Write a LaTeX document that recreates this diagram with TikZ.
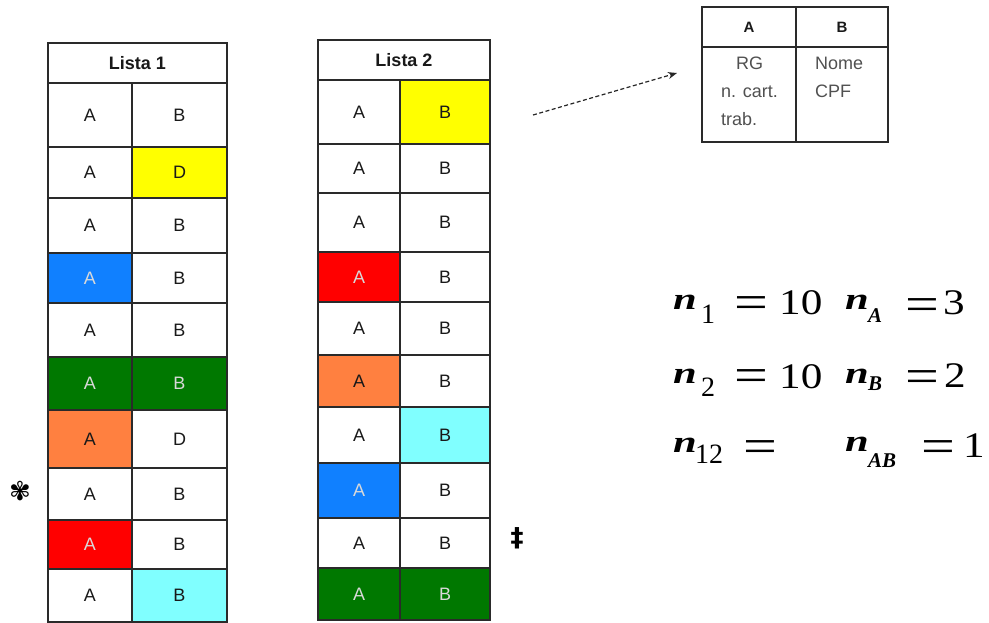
\documentclass[tikz,border=0pt]{standalone}
\usepackage{fontspec}
\setmainfont{Liberation Sans}
\newfontfamily\eqfont{Liberation Serif}
\newfontfamily\symfont{DejaVu Sans}
\usetikzlibrary{arrows.meta}

\definecolor{cyellow}{HTML}{FFFF00}
\definecolor{cblue}{HTML}{1080FF}
\definecolor{cgreen}{HTML}{007800}
\definecolor{corange}{HTML}{FF8040}
\definecolor{cred}{HTML}{FF0000}
\definecolor{ccyan}{HTML}{80FFFF}
\definecolor{gridline}{HTML}{2A2A2A}
\definecolor{bodytext}{HTML}{505050}

% one table cell: name, x-left, y-top, x-right, y-bottom, options, text
\newcommand\mkcell[7]{%
  \node[tcell,#6,minimum width={(#4-#2)*1pt},minimum height={(#5-#3)*1pt}]
    (#1) at ({(#2+#4)/2},{(#3+#5)/2}) {#7};}

% pieces of the counts: wide variable letter, widened equals sign and numbers
\newcommand\nv{\scalebox{1.25}[0.9]{n}}
\newcommand\eqsym{\scalebox{1.25}[1]{=}}
\newcommand\wide[1]{\scalebox{1.2}[1]{#1}}

\tikzset{
  tcell/.style={draw=gridline, line width=1.3pt, inner sep=0pt, outer sep=0pt,
    font=\fontsize{18}{20}\selectfont, text=black!90},
  head/.style={font=\fontsize{18}{20}\selectfont\bfseries},
  lighttext/.style={text=white!85!black},
  frame/.style={draw=gridline, line width=2pt},
  nvar/.style={anchor=base west, inner sep=0pt, font=\eqfont\bfseries\itshape\fontsize{34}{34}\selectfont},
  nsub/.style={anchor=base west, inner sep=0pt, font=\eqfont\fontsize{28}{28}\selectfont},
  lsub/.style={anchor=base west, inner sep=0pt, font=\eqfont\bfseries\itshape\fontsize{21}{21}\selectfont},
  eqnum/.style={anchor=base west, inner sep=0pt, font=\eqfont\fontsize{36}{36}\selectfont},
  eqsign/.style={anchor=base, inner sep=0pt, font=\eqfont\fontsize{48}{48}\selectfont},
  symmark/.style={inner sep=0pt},
  linkarrow/.style={-{Stealth[length=9pt,width=7pt]}, line width=1.2pt, dash pattern=on 4pt off 2.5pt, black!85}
}

\begin{document}
\begin{tikzpicture}[x=1pt,y=-1pt]
\useasboundingbox (0,0) rectangle (989,623);

% ---------------- Lista 1 ----------------
\mkcell{l1h}{48}{43}{227}{83}{head}{Lista 1}
\mkcell{l1a1}{48}{83}{132}{147}{}{A}
\mkcell{l1b1}{132}{83}{227}{147}{}{B}
\mkcell{l1a2}{48}{147}{132}{198}{}{A}
\mkcell{l1b2}{132}{147}{227}{198}{fill=cyellow}{D}
\mkcell{l1a3}{48}{198}{132}{253}{}{A}
\mkcell{l1b3}{132}{198}{227}{253}{}{B}
\mkcell{l1a4}{48}{253}{132}{303}{fill=cblue,lighttext}{A}
\mkcell{l1b4}{132}{253}{227}{303}{}{B}
\mkcell{l1a5}{48}{303}{132}{357}{}{A}
\mkcell{l1b5}{132}{303}{227}{357}{}{B}
\mkcell{l1a6}{48}{357}{132}{410}{fill=cgreen,lighttext}{A}
\mkcell{l1b6}{132}{357}{227}{410}{fill=cgreen,lighttext}{B}
\mkcell{l1a7}{48}{410}{132}{468}{fill=corange}{A}
\mkcell{l1b7}{132}{410}{227}{468}{}{D}
\mkcell{l1a8}{48}{468}{132}{520}{}{A}
\mkcell{l1b8}{132}{468}{227}{520}{}{B}
\mkcell{l1a9}{48}{520}{132}{569}{fill=cred,lighttext}{A}
\mkcell{l1b9}{132}{520}{227}{569}{}{B}
\mkcell{l1a10}{48}{569}{132}{622}{}{A}
\mkcell{l1b10}{132}{569}{227}{622}{fill=ccyan}{B}
\draw[frame] (l1h.north west) rectangle (l1b10.south east);

% ---------------- Lista 2 ----------------
\mkcell{l2h}{318}{40}{490}{80}{head}{Lista 2}
\mkcell{l2a1}{318}{80}{400}{144}{}{A}
\mkcell{l2b1}{400}{80}{490}{144}{fill=cyellow}{B}
\mkcell{l2a2}{318}{144}{400}{193}{}{A}
\mkcell{l2b2}{400}{144}{490}{193}{}{B}
\mkcell{l2a3}{318}{193}{400}{252}{}{A}
\mkcell{l2b3}{400}{193}{490}{252}{}{B}
\mkcell{l2a4}{318}{252}{400}{302}{fill=cred,lighttext}{A}
\mkcell{l2b4}{400}{252}{490}{302}{}{B}
\mkcell{l2a5}{318}{302}{400}{355}{}{A}
\mkcell{l2b5}{400}{302}{490}{355}{}{B}
\mkcell{l2a6}{318}{355}{400}{407}{fill=corange}{A}
\mkcell{l2b6}{400}{355}{490}{407}{}{B}
\mkcell{l2a7}{318}{407}{400}{463}{}{A}
\mkcell{l2b7}{400}{407}{490}{463}{fill=ccyan}{B}
\mkcell{l2a8}{318}{463}{400}{518}{fill=cblue,lighttext}{A}
\mkcell{l2b8}{400}{463}{490}{518}{}{B}
\mkcell{l2a9}{318}{518}{400}{568}{}{A}
\mkcell{l2b9}{400}{518}{490}{568}{}{B}
\mkcell{l2a10}{318}{568}{400}{620}{fill=cgreen,lighttext}{A}
\mkcell{l2b10}{400}{568}{490}{620}{fill=cgreen,lighttext}{B}
\draw[frame] (l2h.north west) rectangle (l2b10.south east);

% markers beside the tables
\node[symmark, font=\symfont\fontsize{26}{26}\selectfont] (star1) at (20,491) {✾};
\node[symmark, font=\symfont\bfseries\fontsize{26}{26}\selectfont] (star2) at (517,538) {‡};

% ---------------- key table ----------------
\mkcell{kha}{702}{7}{796}{47}{font=\fontsize{15}{17}\selectfont\bfseries}{A}
\mkcell{khb}{796}{7}{888}{47}{font=\fontsize{15}{17}\selectfont\bfseries}{B}
\mkcell{kba}{702}{47}{796}{142}{}{}
\mkcell{kbb}{796}{47}{888}{142}{}{}
\draw[frame] (kha.north west) rectangle (kbb.south east);
\node[anchor=north west, inner sep=0pt, align=left, text=bodytext,
      font=\fontsize{18}{28}\selectfont] (kta) at (721,57)
      {\hspace*{15pt}RG\\n. cart.\\trab.};
\node[anchor=north west, inner sep=0pt, align=left, text=bodytext,
      font=\fontsize{18}{28}\selectfont] (ktb) at (815,57) {Nome\\CPF};

% dashed link towards the key table
\coordinate (lkfrom) at (533,115);
\coordinate (lkto) at (677,73);
\draw[linkarrow] (lkfrom) -- (lkto);

% ---------------- counts ----------------
\node[nvar] (n1) at (673,309) {\nv};
\node[nsub] (n1s) at (701,323) {1};
\node[eqsign] (n1e) at (751,318) {\eqsym};
\node[eqnum] (n1v) at (779,314) {\wide{10}};
\node[nvar] (nA) at (845,309) {\nv};
\node[lsub] (nAs) at (868,322) {A};
\node[eqsign] (nAe) at (922,320) {\eqsym};
\node[eqnum] (nAv) at (943,314) {\wide{3}};

\node[nvar] (n2) at (673,383) {\nv};
\node[nsub] (n2s) at (701,396) {2};
\node[eqsign] (n2e) at (751,391) {\eqsym};
\node[eqnum] (n2v) at (779,388) {\wide{10}};
\node[nvar] (nB) at (845,383) {\nv};
\node[lsub] (nBs) at (868,390) {B};
\node[eqsign] (nBe) at (922,392) {\eqsym};
\node[eqnum] (nBv) at (944,387) {\wide{2}};

\node[nvar] (n12) at (673,452) {\nv};
\node[nsub] (n12s) at (695,463) {12};
\node[eqsign] (n12e) at (760,462) {\eqsym};
\node[nvar] (nAB) at (845,451) {\nv};
\node[lsub] (nABs) at (868,467) {AB};
\node[eqsign] (nABe) at (938,462) {\eqsym};
\node[eqnum] (nABv) at (963,457) {\wide{1}};
\end{tikzpicture}
\end{document}
